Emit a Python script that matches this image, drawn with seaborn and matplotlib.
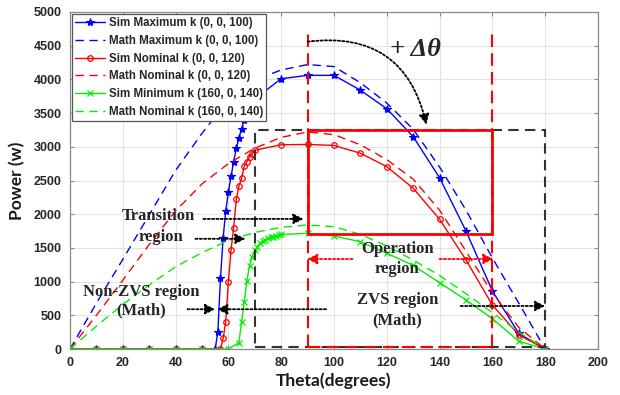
import matplotlib
matplotlib.use("Agg")
import matplotlib.pyplot as plt
import seaborn as sns
from matplotlib.patches import Rectangle

# ---------------- data ----------------
sim_max_theta = [0, 10, 20, 30, 40, 50, 55, 56, 57, 58, 59, 60, 61, 62, 63, 64, 65, 66, 67, 68, 69, 70,
                 80, 90, 100, 110, 120, 130, 140, 150, 160, 170, 180]
sim_max_power = [0, 0, 0, 0, 0, 0, 0, 257, 1049, 1650, 2050, 2330, 2560, 2780, 2980, 3130, 3270, 3400, 3520,
                 3600, 3660, 3710, 4010, 4060, 4060, 3840, 3565, 3150, 2540, 1750, 860, 230, 0]

sim_nom_theta = [0, 10, 20, 30, 40, 50, 57, 58, 59, 60, 61, 62, 63, 64, 65, 66, 67, 68, 69, 70,
                 80, 90, 100, 110, 120, 130, 140, 150, 160, 170, 180]
sim_nom_power = [0, 0, 0, 0, 0, 0, 0, 158, 405, 1000, 1470, 1800, 2220, 2420, 2530, 2715, 2780, 2850, 2895, 2950,
                 3030, 3035, 3020, 2905, 2705, 2385, 1925, 1320, 653, 208, 0]

sim_min_theta = [0, 10, 20, 30, 40, 50, 60, 64, 65, 66, 67, 68, 69, 70, 71, 72, 73, 74, 75, 76, 77, 78, 79,
                 80, 90, 100, 110, 120, 130, 140, 150, 160, 170, 180]
sim_min_power = [0, 0, 0, 0, 0, 0, 0, 94, 405, 702, 1009, 1231, 1370, 1469, 1518, 1568, 1600, 1620, 1640, 1655,
                 1666, 1680, 1690, 1700, 1716, 1677, 1592, 1420, 1240, 984, 727, 450, 115, 0]

math_theta = [0, 10, 20, 30, 40, 50, 60, 70, 80, 90, 100, 110, 120, 130, 140, 150, 160, 170, 180]
math_max_power = [0, 680, 1330, 1990, 2650, 3200, 3700, 3990, 4140, 4220, 4190, 3950, 3650, 3260, 2700,
                  2060, 1350, 680, 0]
math_nom_power = [0, 500, 1020, 1550, 2050, 2450, 2750, 2980, 3140, 3220, 3180, 3030, 2810, 2520, 2060,
                  1450, 830, 320, 0]
math_min_power = [0, 340, 660, 950, 1220, 1430, 1610, 1730, 1805, 1840, 1815, 1700, 1530, 1320, 1090,
                  820, 540, 250, 0]

labels = ["Sim Maximum k (0, 0, 100)", "Math Maximum k (0, 0, 100)",
          "Sim Nominal k (0, 0, 120)", "Math Nominal k (0, 0, 120)",
          "Sim Minimum k (160, 0, 140)", "Math Nominal k (160, 0, 140)"]

x_ticks = [0, 20, 40, 60, 80, 100, 120, 140, 160, 180, 200]
y_ticks = [0, 500, 1000, 1500, 2000, 2500, 3000, 3500, 4000, 4500, 5000]

# region bounds
zvs_box = [70, 180, 30, 3250]          # theta0, theta1, p0, p1
op_box = [90, 160, 1710, 3255]
op_lines = [90, 160, 30, 4730]

# ---------------- style ----------------
sns.set_style("ticks")
plt.rcParams['font.family'] = ['Liberation Sans', 'DejaVu Sans']

fig = plt.figure(figsize=(6.2, 3.95), dpi=100)
ax = fig.add_axes([70 / 620, 46 / 395, 528 / 620, 337 / 395])

BLUE, RED, GREEN = "#0000ff", "#ff0000", "#00ee00"
dash = (0, (6, 4))

sns.lineplot(x=sim_max_theta, y=sim_max_power, ax=ax, color=BLUE, lw=1.0, marker="*", markersize=6,
             markeredgecolor=BLUE, markerfacecolor=BLUE, markeredgewidth=0.8, label=labels[0])
sns.lineplot(x=math_theta, y=math_max_power, ax=ax, color=BLUE, lw=1.0, linestyle=dash, label=labels[1])
sns.lineplot(x=sim_nom_theta, y=sim_nom_power, ax=ax, color=RED, lw=1.0, marker="o", markersize=4,
             markeredgecolor=RED, markerfacecolor="none", markeredgewidth=0.9, label=labels[2])
sns.lineplot(x=math_theta, y=math_nom_power, ax=ax, color=RED, lw=1.0, linestyle=dash, label=labels[3])
sns.lineplot(x=sim_min_theta, y=sim_min_power, ax=ax, color=GREEN, lw=1.0, marker="x", markersize=4,
             markeredgecolor=GREEN, markeredgewidth=0.9, label=labels[4])
sns.lineplot(x=math_theta, y=math_min_power, ax=ax, color=GREEN, lw=1.0, linestyle=dash, label=labels[5])

# region boxes
ax.add_patch(Rectangle((zvs_box[0], zvs_box[2]), zvs_box[1] - zvs_box[0], zvs_box[3] - zvs_box[2],
                       fill=False, ec="#333333", lw=1.5, ls=(0, (5, 3)), zorder=3))
ax.plot([op_lines[0], op_lines[0]], [op_lines[2], op_lines[3]], color=RED, lw=1.5, ls=(0, (6, 3)), zorder=3)
ax.plot([op_lines[1], op_lines[1]], [op_lines[2], op_lines[3]], color=RED, lw=1.5, ls=(0, (6, 3)), zorder=3)
ax.plot([op_lines[0], op_lines[1]], [op_lines[2], op_lines[2]], color=RED, lw=1.5, ls=(0, (6, 3)), zorder=3)
ax.add_patch(Rectangle((op_box[0], op_box[2]), op_box[1] - op_box[0], op_box[3] - op_box[2],
                       fill=False, ec=RED, lw=2.0, zorder=3))

# annotations
serif = dict(family=["Liberation Serif", "DejaVu Serif"], weight="bold", fontsize=12, ha="center", va="center")
ax.text(33.5, 1975, "Transition", **serif)
ax.text(34.5, 1660, "region", **serif)
ax.text(27, 850, "Non-ZVS region", **serif)
ax.text(27, 580, "(Math)", **serif)
ax.text(124, 730, "ZVS region", **serif)
ax.text(124, 430, "(Math)", **serif)
ax.text(124, 1490, "Operation", **serif)
ax.text(124, 1180, "region", **serif)
ax.text(131, 4440, "+ Δθ", family=["Liberation Serif", "DejaVu Serif"], weight="bold", style="italic",
        fontsize=19, ha="center", va="center")


def arrow(tail, tip, color="k", rad=0.0):
    ax.annotate("", xy=tip, xytext=tail,
                arrowprops=dict(arrowstyle="-|>", ls=(0, (1.2, 1.2)), lw=1.3, color=color,
                                mutation_scale=15, shrinkA=0, shrinkB=0,
                                connectionstyle=f"arc3,rad={rad}"), zorder=6)


arrow((50.5, 1930), (88.5, 1930))
arrow((47.5, 1635), (66.5, 1635))
arrow((11, 590), (-0.8, 590))
arrow((44.5, 590), (55.0, 590))
arrow((97, 590), (55.7, 590))
arrow((148, 638), (180, 638))
arrow((107, 1335), (89.8, 1335), color=RED)
arrow((140, 1335), (160.4, 1335), color=RED)
arrow((90, 4560), (135, 3330), rad=-0.45)

# axes cosmetics
ax.set_xlim(0, 200)
ax.set_ylim(0, 5000)
ax.set_xticks(x_ticks)
ax.set_yticks(y_ticks)
ax.grid(True, color="#e3e3e3", lw=0.8)
ax.set_axisbelow(True)
ax.tick_params(direction="in", length=3, top=True, right=True, color="#888888",
               labelsize=9, pad=6)
for lab in ax.get_xticklabels() + ax.get_yticklabels():
    lab.set_fontweight("bold")
    lab.set_color("#262626")
for s in ax.spines.values():
    s.set_color("#8a8a8a")
    s.set_linewidth(0.9)

lab_font = dict(family=["Lato", "DejaVu Sans"], weight="bold", fontsize=12.5, color="#1a1a1a")
ax.set_xlabel("Theta(degrees)", labelpad=2, **lab_font)
ax.set_ylabel("Power (w)", labelpad=6, **lab_font)

handles, labs = ax.get_legend_handles_labels()
leg = ax.legend(handles, labs, loc="upper left", bbox_to_anchor=(0, 1), borderaxespad=0.15,
                fancybox=False, framealpha=1, edgecolor="#555555",
                prop=dict(family=["Liberation Sans", "DejaVu Sans"], weight="bold", size=8.3),
                handlelength=2.6, handletextpad=0.3, labelspacing=0.5, borderpad=0.3)
leg.get_frame().set_linewidth(0.9)
leg.set_zorder(10)

fig.savefig("out.png", dpi=100)
